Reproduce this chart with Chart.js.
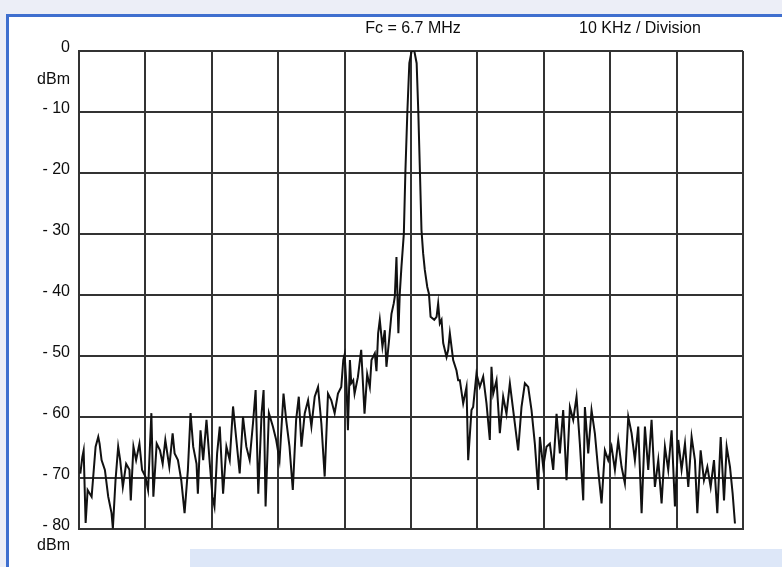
<!DOCTYPE html>
<html>
<head>
<meta charset="utf-8">
<script src="https://cdn.jsdelivr.net/npm/chart.js@4.4.1/dist/chart.umd.min.js"></script>
<style>
  html, body { margin: 0; padding: 0; }
  body { width: 782px; height: 567px; background: #eceef7; position: relative; overflow: hidden; }
  #frame {
    position: absolute; left: 6px; top: 14px; width: 790px; height: 560px;
    background: #fff; border-left: 3px solid #3f6fcf; border-top: 3px solid #3f6fcf;
  }
  #band { position: absolute; left: 190px; top: 549px; width: 600px; height: 20px; background: #dde7f8; }
  #wrap { position: absolute; left: 0; top: 0; width: 782px; height: 567px; }
</style>
</head>
<body>
<div id="frame"></div>
<div id="band"></div>
<div id="wrap"><canvas id="spectrum" width="782" height="567"></canvas></div>
<script>
// ─────────────────────────────────────────────
// DATA  (offset from Fc in kHz, level in dBm)
// ─────────────────────────────────────────────
const freqKHz = [
  -49.8, -49.5, -49.3, -49.0, -48.7, -48.1, -47.9, -47.5, -47.1, -46.9,
  -46.6, -46.1, -45.6, -45.1, -44.9, -44.5, -44.1, -43.8, -43.4, -42.9,
  -42.4, -42.2, -41.8, -41.4, -40.9, -40.5, -40.0, -39.6, -39.1, -38.8,
  -38.3, -37.8, -37.4, -37.0, -36.4, -35.9, -35.6, -35.1, -34.6, -34.1,
  -33.6, -33.2, -32.8, -32.3, -32.1, -31.7, -31.3, -30.8, -30.3, -29.9,
  -29.6, -29.2, -28.8, -28.3, -27.8, -27.3, -26.8, -26.3, -25.8, -25.3,
  -24.8, -24.3, -23.8, -23.4, -23.0, -22.5, -22.2, -21.9, -21.4, -20.8,
  -20.3, -19.8, -19.2, -18.8, -18.3, -17.8, -17.3, -16.9, -16.5, -16.0,
  -15.5, -15.0, -14.5, -14.0, -13.5, -13.0, -12.5, -12.0, -11.5, -11.0,
  -10.5, -10.2, -10.0, -9.7, -9.5, -9.2, -9.0, -8.7, -8.5, -8.0,
  -7.5, -7.0, -6.6, -6.2, -5.95, -5.45, -5.2, -4.95, -4.7, -4.3,
  -3.95, -3.7, -3.3, -2.94, -2.6, -2.44, -2.19, -1.9, -1.69, -1.44,
  -1.08, -0.85, -0.55, -0.25, 0.1, 0.5, 0.85, 1.1, 1.35, 1.58,
  1.83, 2.08, 2.45, 2.7, 2.95, 3.5, 3.85, 4.09, 4.34, 4.6,
  4.85, 5.35, 5.6, 5.85, 6.1, 6.35, 6.85, 7.1, 7.36, 7.86,
  8.36, 8.61, 9.11, 9.36, 9.86, 10.36, 10.87, 11.37, 11.87, 12.12,
  12.38, 12.88, 13.38, 13.88, 14.38, 14.89, 15.39, 16.14, 16.64, 17.15,
  17.65, 18.15, 18.65, 19.16, 19.41, 19.91, 20.41, 20.91, 21.42, 21.92,
  22.42, 22.92, 23.42, 23.93, 24.43, 24.93, 25.43, 25.94, 26.19, 26.69,
  27.19, 27.69, 28.19, 28.70, 29.20, 29.70, 30.20, 30.71, 31.21, 31.71,
  32.21, 32.72, 33.22, 33.72, 34.22, 34.73, 35.23, 35.73, 36.23, 36.73,
  37.24, 37.74, 38.24, 38.74, 39.25, 39.75, 40.25, 40.75, 41.26, 41.76,
  42.26, 42.76, 43.12, 43.62, 44.12, 44.63, 45.13, 45.63, 46.13, 46.64,
  47.14, 47.54, 48.04, 48.44, 48.79
];

const levelDbm = [
  -69.3, -66.6, -65.5, -77.4, -72.0, -73.1, -70.4, -64.9, -63.3, -64.4,
  -67.1, -68.7, -73.1, -75.8, -78.3, -70.4, -64.9, -67.1, -71.5, -67.7,
  -68.7, -73.7, -64.9, -67.1, -64.4, -68.7, -69.8, -72.0, -59.4, -73.1,
  -64.4, -65.5, -67.7, -63.8, -68.2, -62.7, -66.0, -67.1, -70.4, -75.8,
  -68.7, -59.4, -64.9, -67.7, -72.6, -62.2, -67.1, -60.5, -67.7, -73.1,
  -74.7, -66.0, -61.6, -72.6, -64.9, -67.1, -58.3, -63.8, -69.3, -60.0,
  -64.9, -67.1, -61.1, -55.6, -72.6, -59.4, -55.6, -74.7, -59.4, -61.6,
  -63.8, -67.1, -56.2, -60.5, -64.9, -72.0, -60.5, -56.7, -64.9, -59.4,
  -57.3, -61.6, -56.7, -55.1, -61.1, -69.8, -56.2, -57.3, -59.4, -56.2,
  -55.1, -50.7, -49.8, -55.1, -62.2, -50.7, -54.5, -54.0, -56.2, -53.5,
  -49.0, -59.5, -53.0, -55.1, -50.7, -49.6, -52.5, -46.3, -44.1, -48.5,
  -45.8, -51.8, -47.4, -43.1, -41.4, -40.3, -33.8, -46.3, -39.8, -35.4,
  -30.0, -20.0, -10.0, -2.0, 0.0, 0.0, -2.0, -10.0, -20.0, -29.4,
  -33.2, -35.9, -38.7, -39.8, -43.6, -44.1, -43.6, -41.4, -44.7, -44.1,
  -47.9, -50.2, -49.0, -46.3, -48.5, -50.7, -52.4, -54.0, -54.0, -57.8,
  -55.1, -67.1, -58.9, -58.4, -52.9, -55.1, -53.4, -57.8, -63.8, -51.8,
  -56.2, -54.0, -62.7, -56.7, -59.5, -54.5, -58.9, -65.5, -58.4, -54.5,
  -55.1, -58.9, -64.4, -72.0, -63.3, -68.2, -64.9, -64.4, -68.7, -59.5,
  -66.0, -58.9, -70.4, -58.4, -60.5, -56.7, -64.4, -73.7, -58.4, -66.0,
  -58.9, -62.7, -68.7, -74.2, -65.5, -67.1, -64.9, -68.7, -63.8, -68.2,
  -70.9, -60.0, -62.7, -67.1, -61.6, -75.8, -61.6, -68.7, -60.5, -71.5,
  -67.1, -74.2, -64.9, -68.7, -62.2, -74.7, -63.8, -68.7, -64.4, -71.5,
  -63.3, -67.1, -75.8, -65.5, -70.4, -68.2, -71.5, -67.1, -75.8, -63.3,
  -73.7, -64.9, -68.2, -72.6, -77.5
];

// axis: 10 divisions of 10 kHz, 0 .. -80 dBm (last division compressed on the plot)
const X_MIN = -50, X_MAX = 50, X_STEP = 10;
const Y_TICKS = [0, -10, -20, -30, -40, -50, -60, -70];
const Y_BOTTOM = -78.4;            // where the "-80" line sits on the scan
const Y_LABELS = ['0', '- 10', '- 20', '- 30', '- 40', '- 50', '- 60', '- 70', '- 80'];

const CENTER_TEXT = 'Fc = 6.7 MHz';
const SPAN_TEXT   = '10 KHz / Division';
const UNIT_TEXT   = 'dBm';

// ─────────────────────────────────────────────
// CHART
// ─────────────────────────────────────────────
Chart.defaults.font.family = '"Liberation Sans", Arial, sans-serif';
Chart.defaults.font.size = 16;
Chart.defaults.color = '#0d0d0d';

const GRID = '#333333';

const annotate = {
  id: 'annotate',
  afterDraw(chart) {
    const { ctx, scales: { x, y } } = chart;
    ctx.save();
    ctx.fillStyle = '#0d0d0d';
    ctx.font = '16px "Liberation Sans", Arial, sans-serif';
    ctx.textBaseline = 'middle';
    ctx.textAlign = 'center';
    ctx.fillText(CENTER_TEXT, x.getPixelForValue(0.3), 29);
    ctx.textAlign = 'left';
    ctx.fillText(SPAN_TEXT, x.getPixelForValue(25.3), 29);
    ctx.textAlign = 'right';
    ctx.fillText(UNIT_TEXT, 70, y.getPixelForValue(0) + 29);
    ctx.fillText(UNIT_TEXT, 70, y.getPixelForValue(Y_BOTTOM) + 17);
    ctx.restore();
  }
};

new Chart(document.getElementById('spectrum'), {
  type: 'line',
  data: {
    datasets: [{
      data: freqKHz.map((f, i) => ({ x: f, y: levelDbm[i] })),
      borderColor: '#111111',
      borderWidth: 2,
      pointRadius: 0,
      tension: 0,
      fill: false
    }]
  },
  options: {
    responsive: false,
    animation: false,
    layout: { padding: { left: 0, top: 51, right: 39, bottom: 38 } },
    plugins: { legend: { display: false }, tooltip: { enabled: false } },
    scales: {
      x: {
        type: 'linear', min: X_MIN, max: X_MAX,
        ticks: { display: false, stepSize: X_STEP },
        grid: { color: GRID, lineWidth: 2, drawTicks: false },
        border: { display: true, color: GRID, width: 2 },
        afterFit: s => { s.height = 0; }
      },
      y: {
        type: 'linear', min: Y_BOTTOM, max: 0,
        afterBuildTicks: s => { s.ticks = Y_TICKS.concat([Y_BOTTOM]).map(v => ({ value: v })); },
        ticks: {
          padding: 9,
          labelOffset: -3,
          callback: (v, i) => Y_LABELS[i]
        },
        grid: { color: GRID, lineWidth: 2, drawTicks: false },
        border: { display: true, color: GRID, width: 2 },
        afterFit: s => { s.width = 79; }
      }
    }
  },
  plugins: [annotate]
});
</script>
</body>
</html>
